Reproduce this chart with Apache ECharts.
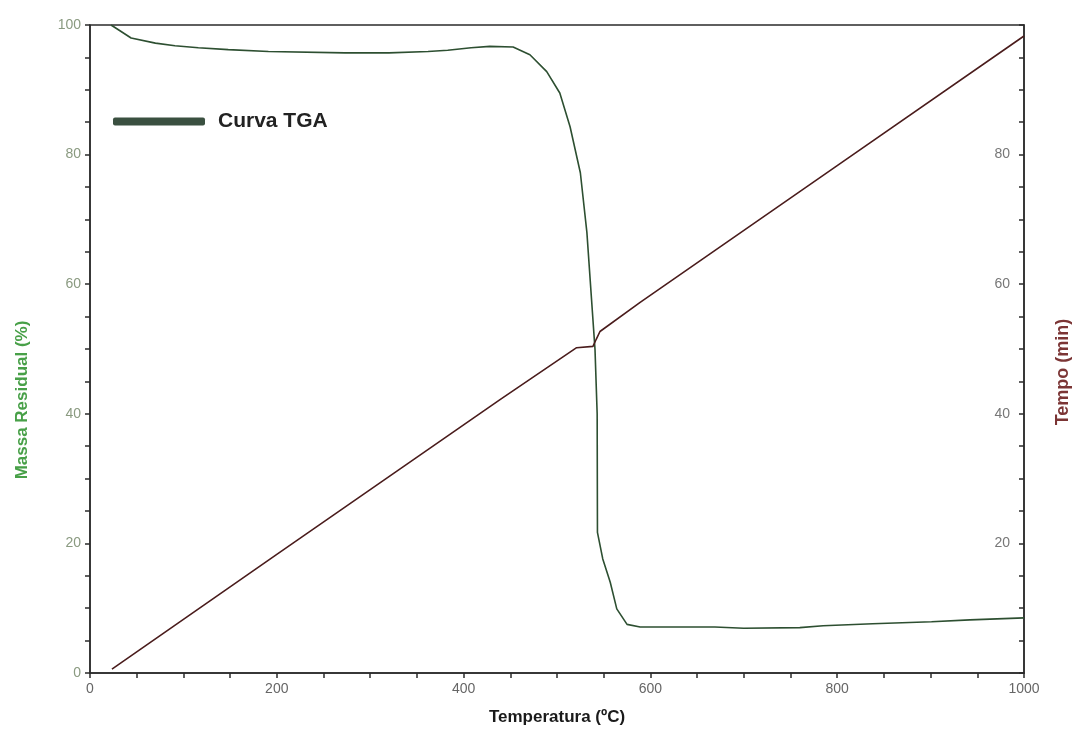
<!DOCTYPE html>
<html>
<head>
<meta charset="utf-8">
<title>Curva TGA</title>
<script src="https://cdn.jsdelivr.net/npm/echarts@6/dist/echarts.min.js"></script>
<style>
    html, body {margin: 0; padding: 0; background: #fff;}
    #tgaChart {width: 1078px; height: 731px;}
</style>
</head>
<body>
<div id="tgaChart"></div>
<script>
// TGA curve: temperature in C, residual mass in %
var tgaTemp = [22.5, 30, 44, 70, 91, 116, 148, 191, 273, 320, 362, 383, 408, 428, 453, 471, 489, 503, 514, 525, 532, 537, 540.7, 543, 543.3, 549, 557, 564, 575, 589, 669, 700, 760, 785, 838, 901, 942, 1000];
var tgaMass = [100, 99.3, 98.0, 97.2, 96.8, 96.5, 96.2, 95.9, 95.7, 95.7, 95.9, 96.1, 96.5, 96.7, 96.6, 95.4, 92.8, 89.5, 84.3, 77.2, 68.0, 57.6, 49.9, 40.0, 21.7, 17.6, 14.0, 9.9, 7.5, 7.1, 7.1, 6.9, 7.0, 7.3, 7.6, 7.9, 8.2, 8.5];

// time curve: temperature in C, time in min
var tempoTemp = [23.5, 200, 400, 439, 521, 538.5, 542, 546, 589, 800, 1000];
var tempoMin = [0.6, 18.3, 38.3, 42.2, 50.2, 50.4, 51.5, 52.7, 57.2, 78.3, 98.3];

var legendName = 'Curva TGA';
var xName = 'Temperatura (ºC)';
var yLeftName = 'Massa Residual (%)';
var yRightName = 'Tempo (min)';

function pairs(xs, ys) {
    var out = [];
    for (var i = 0; i < xs.length; i++) {
        out.push([xs[i], ys[i]]);
    }
    return out;
}

var chart = echarts.init(document.getElementById('tgaChart'));
var axisLine = {show: true, lineStyle: {color: '#2b2b2b', width: 1.5}};
var option = {
    animation: false,
    backgroundColor: '#fff',
    textStyle: {fontFamily: 'Liberation Sans, Arial, sans-serif'},
    grid: {left: 90, right: 54, top: 25, bottom: 57, show: true, borderColor: '#2b2b2b', borderWidth: 1.5},
    legend: {
        data: [legendName],
        left: 108,
        top: 106,
        icon: 'roundRect',
        itemWidth: 92,
        itemHeight: 8,
        itemStyle: {color: '#3a5040'},
        textStyle: {fontSize: 21, fontWeight: 'bold', color: '#222', padding: [0, 0, 0, 8]}
    },
    xAxis: {
        type: 'value',
        min: 0,
        max: 1000,
        interval: 200,
        name: xName,
        nameLocation: 'middle',
        nameGap: 36,
        nameTextStyle: {fontSize: 17, fontWeight: 'bold', color: '#1a1a1a'},
        axisLine: axisLine,
        axisTick: {show: true, length: 5, lineStyle: {color: '#2b2b2b', width: 1.5}},
        minorTick: {show: true, splitNumber: 4, length: 5, lineStyle: {color: '#2b2b2b', width: 1.5}},
        axisLabel: {fontSize: 14, color: '#666', margin: 9, formatter: function (v) { return String(v); }},
        splitLine: {show: false}
    },
    yAxis: [
        {
            type: 'value',
            min: 0,
            max: 100,
            interval: 20,
            position: 'left',
            axisLine: axisLine,
            axisTick: {show: true, length: 5, lineStyle: {color: '#2b2b2b', width: 1.5}},
            minorTick: {show: true, splitNumber: 4, length: 5, lineStyle: {color: '#2b2b2b', width: 1.5}},
            axisLabel: {fontSize: 14, color: '#8a9a80', margin: 9},
            splitLine: {show: false}
        },
        {
            type: 'value',
            min: 0,
            max: 100,
            interval: 20,
            position: 'right',
            axisLine: axisLine,
            axisTick: {show: true, inside: true, length: 5, lineStyle: {color: '#2b2b2b', width: 1.5}},
            minorTick: {show: true, splitNumber: 4, length: 5, lineStyle: {color: '#2b2b2b', width: 1.5}},
            axisLabel: {fontSize: 14, color: '#777', inside: true, margin: 14, showMinLabel: false, showMaxLabel: false},
            splitLine: {show: false}
        }
    ],
    graphic: [
        {
            type: 'text',
            x: 22,
            y: 400,
            rotation: Math.PI / 2,
            style: {text: yLeftName, fontSize: 17, fontWeight: 'bold', fill: '#48a048', align: 'center', verticalAlign: 'middle', fontFamily: 'Liberation Sans, Arial, sans-serif'}
        },
        {
            type: 'text',
            x: 1063,
            y: 372,
            rotation: Math.PI / 2,
            style: {text: yRightName, fontSize: 18, fontWeight: 'bold', fill: '#7b3535', align: 'center', verticalAlign: 'middle', fontFamily: 'Liberation Sans, Arial, sans-serif'}
        }
    ],
    series: [
        {
            name: legendName,
            type: 'line',
            yAxisIndex: 0,
            showSymbol: false,
            lineStyle: {color: '#2d4f31', width: 1.6},
            itemStyle: {color: '#3a5040'},
            data: pairs(tgaTemp, tgaMass)
        },
        {
            name: 'Tempo',
            type: 'line',
            yAxisIndex: 1,
            showSymbol: false,
            lineStyle: {color: '#4a1c1c', width: 1.6},
            data: pairs(tempoTemp, tempoMin)
        }
    ]
};
chart.setOption(option);
</script>
</body>
</html>
